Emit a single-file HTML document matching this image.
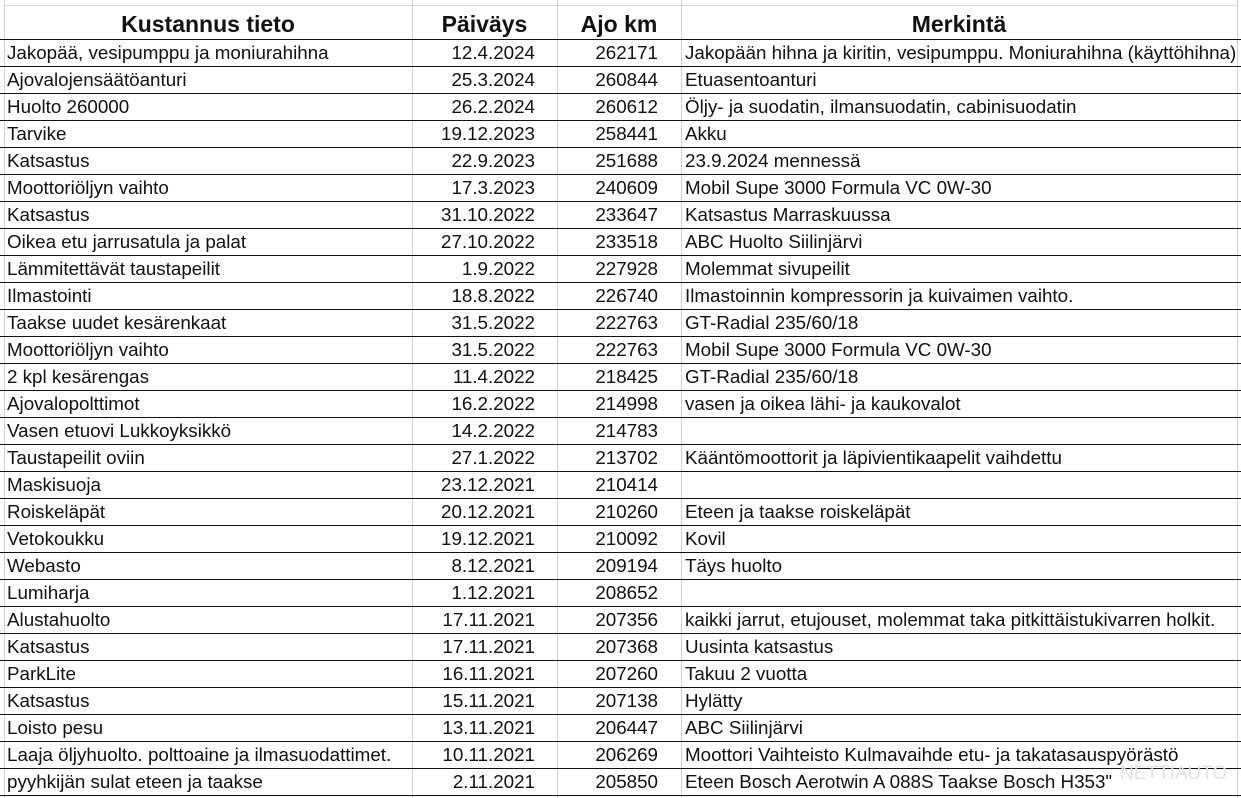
<!DOCTYPE html>
<html><head><meta charset="utf-8">
<style>
html,body{margin:0;padding:0;background:#fff;}
body{width:1241px;height:798px;position:relative;overflow:hidden;font-family:"Liberation Sans",sans-serif;color:#111;}
.vl{position:absolute;top:0;height:798px;width:1px;background:#cfcfcf;}
.hdr{position:absolute;top:5px;height:34px;left:4px;width:1234px;border-top:1px solid #d4d4d4;}
.hdr div{position:absolute;top:0;height:34px;line-height:36px;text-align:center;font-weight:bold;font-size:23px;}
.rows{position:absolute;top:39px;left:0;width:1241px;}
.r{position:absolute;left:0;width:1241px;height:27px;border-top:1.3px solid #111;font-size:18.8px;}
.r span{position:absolute;top:0;line-height:26px;white-space:nowrap;}
.a{left:7px;}
.b{right:calc(1241px - 535px);}
.c{right:calc(1241px - 658px);}
.d{left:685px;}
.wm{position:absolute;left:1120px;top:763px;font-size:19px;color:#e4e4e4;}
</style></head><body>
<div class="vl" style="left:4px"></div>
<div class="vl" style="left:412px"></div>
<div class="vl" style="left:557px"></div>
<div class="vl" style="left:681px"></div>
<div class="vl" style="left:1237px"></div>
<div class="hdr">
<div style="left:0;width:408px">Kustannus tieto</div>
<div style="left:408px;width:145px">Päiväys</div>
<div style="left:553px;width:124px">Ajo km</div>
<div style="left:677px;width:556px">Merkintä</div>
</div>
<div class="rows">
<div class="r" style="top:0px"><span class="a">Jakopää, vesipumppu ja moniurahihna</span><span class="b">12.4.2024</span><span class="c">262171</span><span class="d">Jakopään hihna ja kiritin, vesipumppu. Moniurahihna (käyttöhihna)</span></div>
<div class="r" style="top:27px"><span class="a">Ajovalojensäätöanturi</span><span class="b">25.3.2024</span><span class="c">260844</span><span class="d">Etuasentoanturi</span></div>
<div class="r" style="top:54px"><span class="a">Huolto 260000</span><span class="b">26.2.2024</span><span class="c">260612</span><span class="d">Öljy- ja suodatin, ilmansuodatin, cabinisuodatin</span></div>
<div class="r" style="top:81px"><span class="a">Tarvike</span><span class="b">19.12.2023</span><span class="c">258441</span><span class="d">Akku</span></div>
<div class="r" style="top:108px"><span class="a">Katsastus</span><span class="b">22.9.2023</span><span class="c">251688</span><span class="d">23.9.2024 mennessä</span></div>
<div class="r" style="top:135px"><span class="a">Moottoriöljyn vaihto</span><span class="b">17.3.2023</span><span class="c">240609</span><span class="d">Mobil Supe 3000 Formula VC 0W-30</span></div>
<div class="r" style="top:162px"><span class="a">Katsastus</span><span class="b">31.10.2022</span><span class="c">233647</span><span class="d">Katsastus Marraskuussa</span></div>
<div class="r" style="top:189px"><span class="a">Oikea etu jarrusatula ja palat</span><span class="b">27.10.2022</span><span class="c">233518</span><span class="d">ABC Huolto Siilinjärvi</span></div>
<div class="r" style="top:216px"><span class="a">Lämmitettävät taustapeilit</span><span class="b">1.9.2022</span><span class="c">227928</span><span class="d">Molemmat sivupeilit</span></div>
<div class="r" style="top:243px"><span class="a">Ilmastointi</span><span class="b">18.8.2022</span><span class="c">226740</span><span class="d">Ilmastoinnin kompressorin ja kuivaimen vaihto.</span></div>
<div class="r" style="top:270px"><span class="a">Taakse uudet kesärenkaat</span><span class="b">31.5.2022</span><span class="c">222763</span><span class="d">GT-Radial 235/60/18</span></div>
<div class="r" style="top:297px"><span class="a">Moottoriöljyn vaihto</span><span class="b">31.5.2022</span><span class="c">222763</span><span class="d">Mobil Supe 3000 Formula VC 0W-30</span></div>
<div class="r" style="top:324px"><span class="a">2 kpl kesärengas</span><span class="b">11.4.2022</span><span class="c">218425</span><span class="d">GT-Radial 235/60/18</span></div>
<div class="r" style="top:351px"><span class="a">Ajovalopolttimot</span><span class="b">16.2.2022</span><span class="c">214998</span><span class="d">vasen ja oikea lähi- ja kaukovalot</span></div>
<div class="r" style="top:378px"><span class="a">Vasen etuovi Lukkoyksikkö</span><span class="b">14.2.2022</span><span class="c">214783</span></div>
<div class="r" style="top:405px"><span class="a">Taustapeilit oviin</span><span class="b">27.1.2022</span><span class="c">213702</span><span class="d">Kääntömoottorit ja läpivientikaapelit vaihdettu</span></div>
<div class="r" style="top:432px"><span class="a">Maskisuoja</span><span class="b">23.12.2021</span><span class="c">210414</span></div>
<div class="r" style="top:459px"><span class="a">Roiskeläpät</span><span class="b">20.12.2021</span><span class="c">210260</span><span class="d">Eteen ja taakse roiskeläpät</span></div>
<div class="r" style="top:486px"><span class="a">Vetokoukku</span><span class="b">19.12.2021</span><span class="c">210092</span><span class="d">Kovil</span></div>
<div class="r" style="top:513px"><span class="a">Webasto</span><span class="b">8.12.2021</span><span class="c">209194</span><span class="d">Täys huolto</span></div>
<div class="r" style="top:540px"><span class="a">Lumiharja</span><span class="b">1.12.2021</span><span class="c">208652</span></div>
<div class="r" style="top:567px"><span class="a">Alustahuolto</span><span class="b">17.11.2021</span><span class="c">207356</span><span class="d">kaikki jarrut, etujouset, molemmat taka pitkittäistukivarren holkit.</span></div>
<div class="r" style="top:594px"><span class="a">Katsastus</span><span class="b">17.11.2021</span><span class="c">207368</span><span class="d">Uusinta katsastus</span></div>
<div class="r" style="top:621px"><span class="a">ParkLite</span><span class="b">16.11.2021</span><span class="c">207260</span><span class="d">Takuu 2 vuotta</span></div>
<div class="r" style="top:648px"><span class="a">Katsastus</span><span class="b">15.11.2021</span><span class="c">207138</span><span class="d">Hylätty</span></div>
<div class="r" style="top:675px"><span class="a">Loisto pesu</span><span class="b">13.11.2021</span><span class="c">206447</span><span class="d">ABC Siilinjärvi</span></div>
<div class="r" style="top:702px"><span class="a">Laaja öljyhuolto. polttoaine ja ilmasuodattimet.</span><span class="b">10.11.2021</span><span class="c">206269</span><span class="d">Moottori Vaihteisto Kulmavaihde etu- ja takatasauspyörästö</span></div>
<div class="r" style="top:729px"><span class="a">pyyhkijän sulat eteen ja taakse</span><span class="b">2.11.2021</span><span class="c">205850</span><span class="d">Eteen Bosch Aerotwin A 088S Taakse Bosch H353"</span></div>
<div class="r" style="top:756px;height:0"></div>
</div>
<div class="wm">NETTIAUTO</div>
</body></html>
